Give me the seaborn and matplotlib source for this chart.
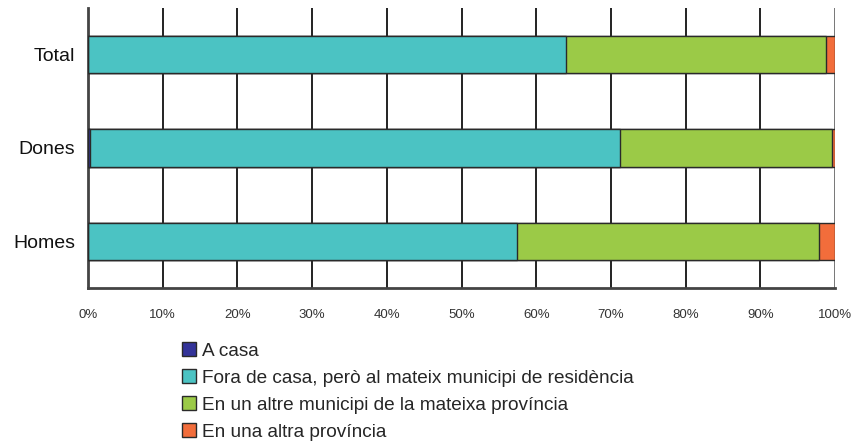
import matplotlib
matplotlib.use("Agg")
import matplotlib.pyplot as plt
import seaborn as sns
import pandas as pd
import numpy as np
from matplotlib.patches import Patch

categories = ["Total", "Dones", "Homes"]
series_names = ["A casa",
                "Fora de casa, però al mateix municipi de residència",
                "En un altre municipi de la mateixa província",
                "En una altra província"]
a_casa = [0.0, 0.3, 0.0]
fora_casa = [64.0, 70.9, 57.4]
altre_municipi = [34.8, 28.4, 40.5]
altra_provincia = [1.2, 0.4, 2.1]
colors = ["#333399", "#4BC3C3", "#9BCA47", "#F26D3B"]
xtick_labels = ["0%", "10%", "20%", "30%", "40%", "50%", "60%", "70%", "80%", "90%", "100%"]

sns.set_style("white")
plt.rcParams['font.family'] = ['Liberation Sans', 'DejaVu Sans']

fig = plt.figure(figsize=(8.51, 4.43), dpi=100)
ax = fig.add_axes([88/851, 1-288/443, (835-88)/851, (288-8)/443])

series = [a_casa, fora_casa, altre_municipi, altra_provincia]
cum = np.cumsum(np.array(series), axis=0)
# draw from the outermost cumulative to the innermost
for i in range(3, -1, -1):
    df = pd.DataFrame({"cat": categories, "val": cum[i]})
    sns.barplot(data=df, y="cat", x="val", order=categories, orient="h",
                color=colors[i], saturation=1, width=0.4,
                edgecolor="#2a2a2a", linewidth=1.0, ax=ax, zorder=3)

ax.set_xlim(0, 100)
ax.set_ylim(2.5, -0.5)
ax.set_xticks(np.arange(0, 101, 10))
ax.set_xticklabels(xtick_labels, fontsize=9.5, color="#333333")
ax.set_yticks(range(len(categories)))
ax.set_yticklabels(categories, fontsize=14, color="#111111")
ax.set_yticks([-0.5, 0.5, 1.5, 2.5], minor=True)
ax.tick_params(axis="y", which="major", length=0, pad=9)
ax.tick_params(axis="y", which="minor", length=5, width=1.5, color="#333333", direction="out")
ax.tick_params(axis="x", which="major", length=5, width=1.5, color="#333333", direction="out", pad=10)
ax.set_xlabel("")
ax.set_ylabel("")

for x in range(10, 101, 10):
    ax.axvline(x, color="#222222" if x < 100 else "#777777", linewidth=1.4, zorder=1)

for s in ["top", "right"]:
    ax.spines[s].set_visible(False)
for s in ["left", "bottom"]:
    ax.spines[s].set_color("#444444")
    ax.spines[s].set_linewidth(2)

handles = [Patch(facecolor=c, edgecolor="#2a2a2a", linewidth=1.0) for c in colors]
fig.legend(handles, series_names, loc="upper left", bbox_to_anchor=(182/851, 1-342/443),
           frameon=False, fontsize=13.7, handlelength=0.75, handleheight=0.75,
           handletextpad=0.3, labelspacing=0.5, borderpad=0, borderaxespad=0)

fig.savefig("out.png", dpi=100)
